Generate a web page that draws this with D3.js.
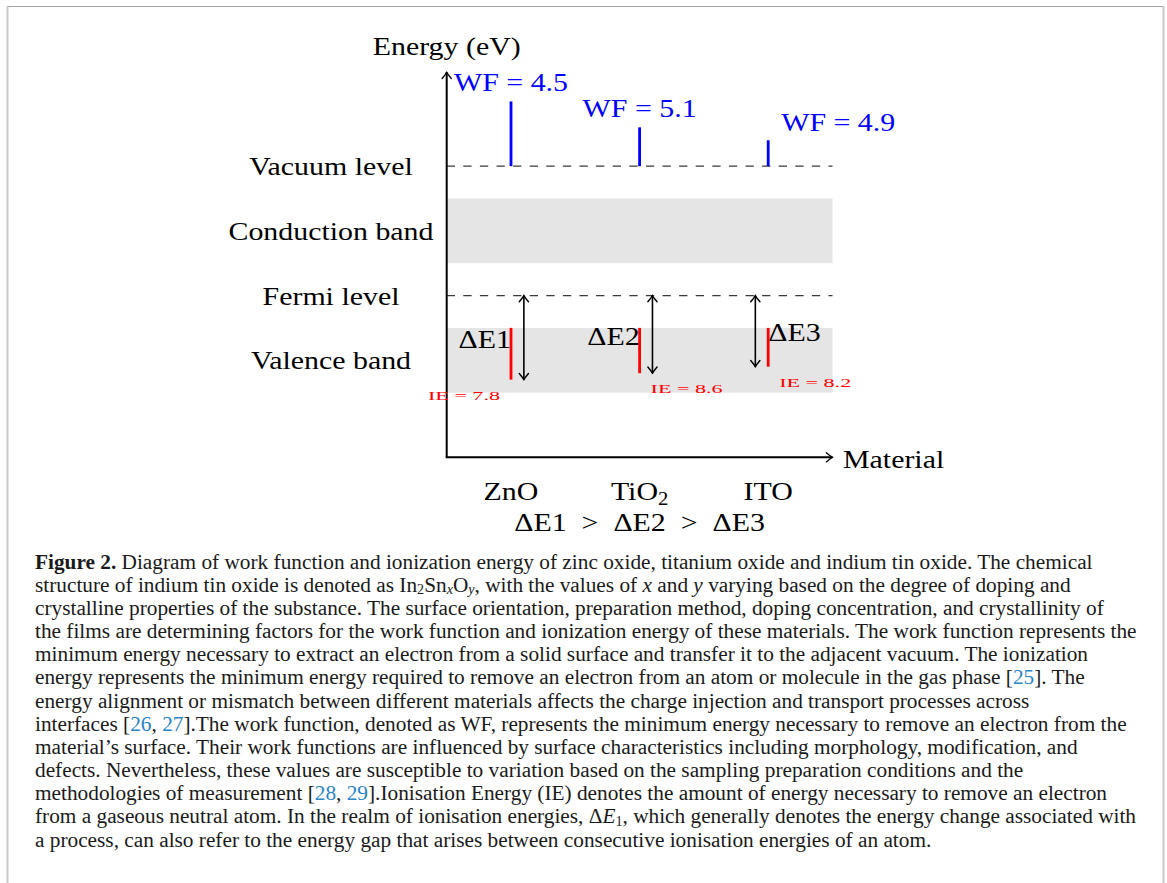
<!DOCTYPE html>
<html>
<head>
<meta charset="utf-8">
<script src="https://cdn.jsdelivr.net/npm/d3@7"></script>
<style>
  html, body { margin: 0; padding: 0; background: #fff; }
  svg { display: block; }
</style>
</head>
<body>
<svg id="fig" width="1167" height="883"></svg>
<script>
// ---- diagram data (diagram units on both axes) ----
const materials = ["ZnO", "TiO2", "ITO"];
const materialX = [1, 3, 5];

// work function: label values and top of the blue bars above the vacuum level
const wfValues = [4.5, 5.1, 4.9];
const wfBarTop = [5.5, 5.1, 4.9];

// ionization energy: label values, lower end of red bars and ΔE arrows
const ieValues = [7.8, 8.6, 8.2];
const lowerLevel = [1.2, 1.3, 1.4];
const arrowX = [1.2, 3.2, 4.8];
const deltaLabels = ["ΔE1", "ΔE2", "ΔE3"];
const deltaSide = [-1, -1, 1];
const ieSide = [-1, 1, 1];

// energy levels and bands
const levelNames = ["Vacuum level", "Conduction band", "Fermi level", "Valence band"];
const levelY = [4.5, 3.5, 2.5, 1.5];
const vacuumLevel = 4.5;
const fermiLevel = 2.5;
const conductionBand = [3, 4];
const valenceBand = [1, 2];
const axisMaxX = 6;
const axisMaxY = 5.95;

// ---- caption text, one entry per printed line ----
const captionLines = [
  [{t: "Figure 2.", b: true}, {t: " Diagram of work function and ionization energy of zinc oxide, titanium oxide and indium tin oxide. The chemical"}],
  [{t: "structure of indium tin oxide is denoted as In"}, {t: "2", sub: true}, {t: "Sn"}, {t: "x", sub: true, i: true}, {t: "O"}, {t: "y", sub: true, i: true}, {t: ", with the values of "}, {t: "x", i: true}, {t: " and "}, {t: "y", i: true}, {t: " varying based on the degree of doping and"}],
  [{t: "crystalline properties of the substance. The surface orientation, preparation method, doping concentration, and crystallinity of"}],
  [{t: "the films are determining factors for the work function and ionization energy of these materials. The work function represents the"}],
  [{t: "minimum energy necessary to extract an electron from a solid surface and transfer it to the adjacent vacuum. The ionization"}],
  [{t: "energy represents the minimum energy required to remove an electron from an atom or molecule in the gas phase ["}, {t: "25", c: true}, {t: "]. The"}],
  [{t: "energy alignment or mismatch between different materials affects the charge injection and transport processes across"}],
  [{t: "interfaces ["}, {t: "26", c: true}, {t: ", "}, {t: "27", c: true}, {t: "].The work function, denoted as WF, represents the minimum energy necessary to remove an electron from the"}],
  [{t: "material\u2019s surface. Their work functions are influenced by surface characteristics including morphology, modification, and"}],
  [{t: "defects. Nevertheless, these values are susceptible to variation based on the sampling preparation conditions and the"}],
  [{t: "methodologies of measurement ["}, {t: "28", c: true}, {t: ", "}, {t: "29", c: true}, {t: "].Ionisation Energy (IE) denotes the amount of energy necessary to remove an electron"}],
  [{t: "from a gaseous neutral atom. In the realm of ionisation energies, \u0394"}, {t: "E", i: true}, {t: "1", sub: true}, {t: ", which generally denotes the energy change associated with"}],
  [{t: "a process, can also refer to the energy gap that arises between consecutive ionisation energies of an atom."}]
];

// ---- layout ----
const svg = d3.select("#fig");
const SERIF = "'Liberation Serif', 'Times New Roman', serif";
const LABEL_SIZE = 26;
const STRETCH = 1.15;   // widen glyphs toward a Computer Modern look

const x = d3.scaleLinear().domain([0, 6]).range([446.7, 832.5]);
const y = d3.scaleLinear().domain([0, 6]).range([457.3, 457.3 - 6 * 64.7]);

// page frame
svg.append("line").attr("x1", 7).attr("x2", 1163.5).attr("y1", 6.5).attr("y2", 6.5)
  .attr("stroke", "#a3a3a3").attr("stroke-width", 1.2);
svg.append("line").attr("x1", 7.5).attr("x2", 7.5).attr("y1", 6).attr("y2", 883)
  .attr("stroke", "#c9c9c9").attr("stroke-width", 2);
svg.append("line").attr("x1", 1163.5).attr("x2", 1163.5).attr("y1", 6).attr("y2", 883)
  .attr("stroke", "#c9c9c9").attr("stroke-width", 2);

const chart = svg.append("g");

// text helper: stretched serif label anchored at (px, py)
function label(g, px, py, txt, opts = {}) {
  const t = g.append("text")
    .attr("transform", `translate(${px},${py}) scale(${opts.stretch ?? STRETCH},1)`)
    .attr("font-family", SERIF)
    .attr("font-size", opts.size ?? LABEL_SIZE)
    .attr("fill", opts.fill ?? "#000")
    .attr("text-anchor", opts.anchor ?? "middle");
  if (opts.textLength) t.attr("textLength", opts.textLength).attr("lengthAdjust", "spacingAndGlyphs");
  t.text(txt);
  return t;
}

// arrow tip in the "to" style, pointing along angle (degrees, 0 = up)
function tip(g, px, py, angle, color = "#000", w = 1.3) {
  g.append("path")
    .attr("d", "M-4.6,6.2 C-2.6,3.8 -0.9,1.6 0,0 C0.9,1.6 2.6,3.8 4.6,6.2")
    .attr("transform", `translate(${px},${py}) rotate(${angle})`)
    .attr("fill", "none").attr("stroke", color).attr("stroke-width", w)
    .attr("stroke-linecap", "round");
}

// bands
chart.append("rect")
  .attr("x", x(0)).attr("width", x(axisMaxX) - x(0))
  .attr("y", y(conductionBand[1])).attr("height", y(conductionBand[0]) - y(conductionBand[1]))
  .attr("fill", "#e5e5e5");
chart.append("rect")
  .attr("x", x(0)).attr("width", x(axisMaxX) - x(0))
  .attr("y", y(valenceBand[1])).attr("height", y(valenceBand[0]) - y(valenceBand[1]))
  .attr("fill", "#e5e5e5");

// dashed vacuum and Fermi levels
[vacuumLevel, fermiLevel].forEach(lv => {
  chart.append("line")
    .attr("x1", x(0)).attr("x2", x(axisMaxX))
    .attr("y1", y(lv)).attr("y2", y(lv))
    .attr("stroke", "#3a3a3a").attr("stroke-width", 1.2)
    .attr("stroke-dasharray", "8.3 8.3");
});

// axes
chart.append("line").attr("x1", x(0)).attr("x2", x(0)).attr("y1", y(0)).attr("y2", y(axisMaxY))
  .attr("stroke", "#000").attr("stroke-width", 2);
chart.append("line").attr("x1", x(0) - 1).attr("x2", x(axisMaxX)).attr("y1", y(0)).attr("y2", y(0))
  .attr("stroke", "#000").attr("stroke-width", 2);
tip(chart, x(0), y(axisMaxY), 0);
tip(chart, x(axisMaxX), y(0), 90);

// axis titles
label(chart, x(0), 55, "Energy (eV)");
label(chart, x(axisMaxX) + 10.5, y(0) + 10.5, "Material", {anchor: "start"});

// level names to the left of the energy axis
levelNames.forEach((n, i) => label(chart, 331, y(levelY[i]) + 9, n));

// work function bars and labels
materialX.forEach((mx, i) => {
  chart.append("line")
    .attr("x1", x(mx)).attr("x2", x(mx))
    .attr("y1", y(vacuumLevel)).attr("y2", y(wfBarTop[i]))
    .attr("stroke", "#0000ff").attr("stroke-width", 2.8);
  const txt = `WF = ${wfValues[i].toFixed(1)}`;
  if (i < 2) {
    label(chart, x(mx), y(wfBarTop[i]) - 10, txt, {fill: "#0000ff"});
  } else {
    label(chart, x(mx) + 13, y(wfBarTop[i]) - 9, txt, {fill: "#0000ff", anchor: "start"});
  }
});

// ionization energy bars, ΔE arrows and labels
materialX.forEach((mx, i) => {
  chart.append("line")
    .attr("x1", x(mx)).attr("x2", x(mx))
    .attr("y1", y(valenceBand[1])).attr("y2", y(lowerLevel[i]))
    .attr("stroke", "#ff0000").attr("stroke-width", 2.8);

  const ax = x(arrowX[i]);
  chart.append("line")
    .attr("x1", ax).attr("x2", ax)
    .attr("y1", y(fermiLevel)).attr("y2", y(lowerLevel[i]))
    .attr("stroke", "#000").attr("stroke-width", 1.6);
  tip(chart, ax, y(fermiLevel), 0, "#000", 1.4);
  tip(chart, ax, y(lowerLevel[i]), 180, "#000", 1.4);

  const mid = (y(valenceBand[1]) + y(lowerLevel[i])) / 2;
  label(chart, x(mx), mid - 6, deltaLabels[i], {anchor: deltaSide[i] < 0 ? "end" : "start"});

  const ieX = x(mx) + ieSide[i] * 47;
  label(chart, ieX, y(lowerLevel[i]) + 20, `IE = ${ieValues[i].toFixed(1)}`,
    {fill: "#ff0000", size: 13, stretch: 1, textLength: 72});
});

// material names under the horizontal axis
materials.forEach((m, i) => {
  const t = label(chart, x(materialX[i]), 500, "");
  const mm = m.match(/^([A-Za-z]+)(\d*)$/);
  t.append("tspan").text(mm[1]);
  if (mm[2]) t.append("tspan").attr("dy", 5).attr("font-size", 18).text(mm[2]);
});
// ordering of the gaps, with relation spacing around ">"
label(chart, x(3), 531, deltaLabels.join("\u2002>\u2002"));

// ---- caption ----
const cap = svg.append("g").attr("font-family", SERIF).attr("fill", "#1a1a1a");
const capX = 35, capY0 = 568.5, capLead = 23.17;
const texts = captionLines.map((segs, li) => {
  const t = cap.append("text").attr("x", capX).attr("y", capY0 + li * capLead).attr("font-size", 19);
  let shift = 0;
  segs.forEach(s => {
    const ts = t.append("tspan").text(s.t);
    const want = s.sub ? 2.5 : 0;
    if (want !== shift) { ts.attr("dy", want - shift); shift = want; }
    if (s.sub) ts.attr("font-size", "66%");
    if (s.b) ts.attr("font-weight", "bold");
    if (s.i) ts.attr("font-style", "italic");
    if (s.c) ts.attr("fill", "#2a84c6");
  });
  return t;
});
// size the caption so its longest line spans the text block
const ref = texts[3].node().getComputedTextLength();
const capSize = 19 * 1102 / ref;
texts.forEach(t => t.attr("font-size", capSize));
</script>
</body>
</html>
